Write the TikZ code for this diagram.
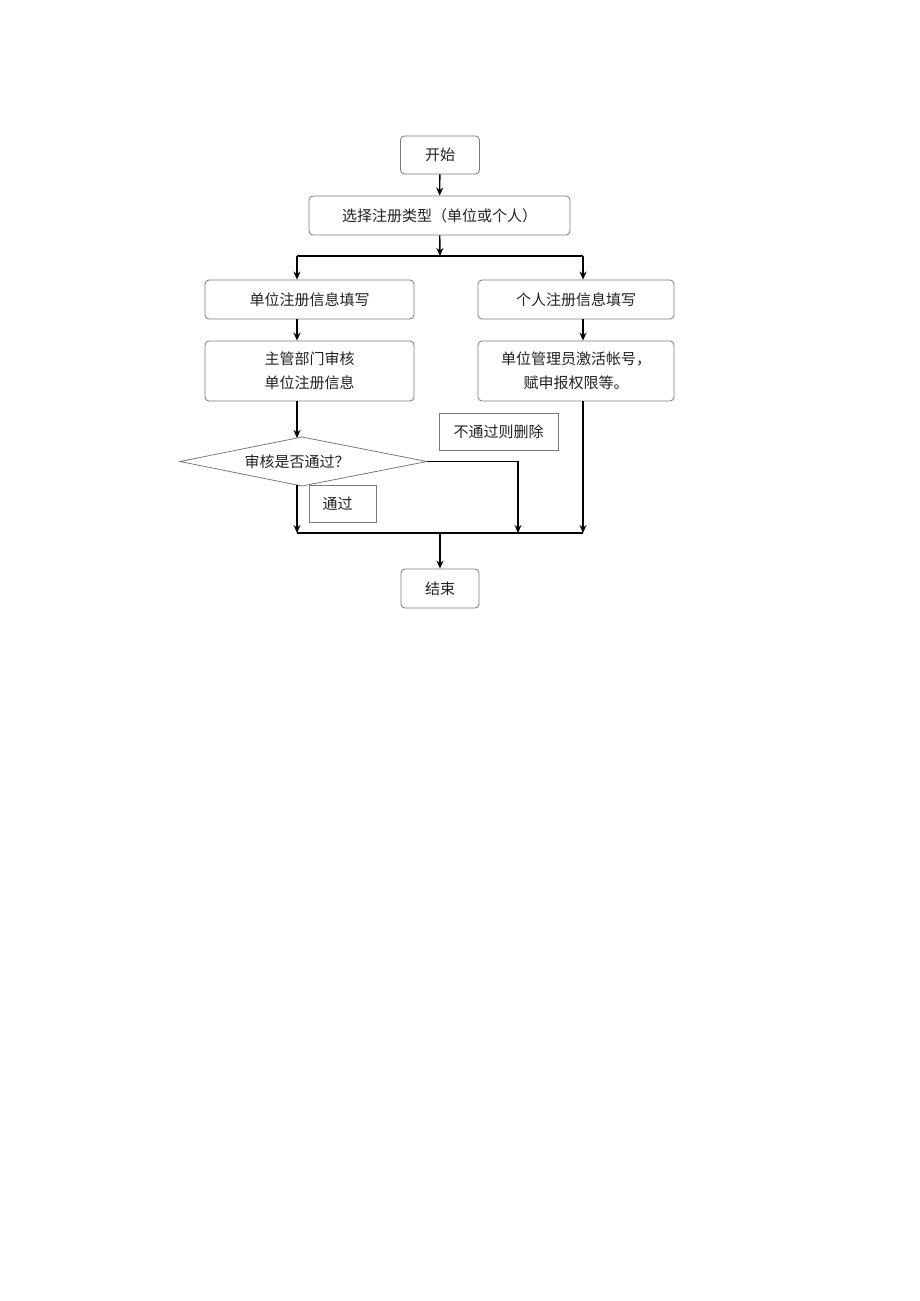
\documentclass[tikz,border=0pt]{standalone}
\usepackage{fontspec}
\setmainfont{Noto Sans CJK SC}
\usetikzlibrary{arrows.meta}
\definecolor{boxgray}{HTML}{7A7A7A}
\definecolor{txt}{HTML}{222222}
\begin{document}
\begin{tikzpicture}[x=1pt,y=-1pt,
  box/.style={draw=boxgray, line width=0.8pt, rounded corners=4pt, inner sep=0pt, align=center,
    font=\fontsize{15}{24}\selectfont, text=txt},
  plainbox/.style={draw=boxgray, line width=0.8pt, inner sep=0pt, align=center,
    font=\fontsize{15}{24}\selectfont, text=txt},
  label/.style={inner sep=0pt, align=center, font=\fontsize{15}{24}\selectfont, text=txt},
  diaedge/.style={draw=boxgray, line width=0.8pt},
  arr/.style={line width=1.4pt, -{Stealth[length=8pt,width=7pt]}},
  ln/.style={line width=1.4pt}]
\useasboundingbox (0,0) rectangle (920,1301);
\fill[white] (0,0) rectangle (920,1301);

\node[box, minimum width=79pt, minimum height=38pt] (start) at (440,155) {开始};
\node[box, minimum width=261pt, minimum height=39pt] (select) at (439.5,215.5) {选择注册类型（单位或个人）};
\node[box, minimum width=209pt, minimum height=39pt] (left1) at (309.5,299.5) {单位注册信息填写};
\node[box, minimum width=196pt, minimum height=39pt] (right1) at (576,299.5) {个人注册信息填写};
\node[box, minimum width=209pt, minimum height=60pt] (left2) at (309.5,371) {主管部门审核\\单位注册信息};
\node[box, minimum width=196pt, minimum height=60pt] (right2) at (576,371) {单位管理员激活帐号，\\赋申报权限等。};

% decision diamond
\coordinate (dN) at (302,437);
\coordinate (dE) at (427,461.5);
\coordinate (dS) at (302,486);
\coordinate (dW) at (180,461.5);
\draw[diaedge] (dN) -- (dE) -- (dS) -- (dW) -- cycle;
\node[label] (check) at (297,461.5) {审核是否通过？};

\node[plainbox, minimum width=119pt, minimum height=37pt] (reject) at (498.5,431.5) {不通过则删除};
\node[plainbox, minimum width=67pt, minimum height=37pt] (pass) at (342.5,503.5) {通过\hspace{10pt}};
\node[box, minimum width=78pt, minimum height=39pt] (end) at (440,588.5) {结束};

\coordinate (xl) at (297,0);
\coordinate (xr) at (583,0);
\coordinate (topbar) at (440,256);
\coordinate (botbar) at (440,533);
\coordinate (tl) at (297,256);
\coordinate (tr) at (583,256);
\coordinate (bl) at (297,533);
\coordinate (br) at (583,533);
\coordinate (bm) at (518,533);
\coordinate (turn) at (518,461.5);
\coordinate (dtop) at (297,438);
\coordinate (dbot) at (297,485);

\draw[arr] (start) -- (select);
\draw[arr] (select) -- (topbar);
\draw[ln] (tl) -- (tr);
\draw[arr] (tl) -- (left1.north -| xl);
\draw[arr] (tr) -- (right1.north -| xr);
\draw[arr] (left1.south -| xl) -- (left2.north -| xl);
\draw[arr] (right1.south -| xr) -- (right2.north -| xr);
\draw[arr] (left2.south -| xl) -- (dtop);
\draw[arr] (dbot) -- (bl);
\draw[arr] (dE) -- (turn) -- (bm);
\draw[arr] (right2.south -| xr) -- (br);
\draw[ln] (bl) -- (br);
\draw[arr] (botbar) -- (end);
\end{tikzpicture}
\end{document}
